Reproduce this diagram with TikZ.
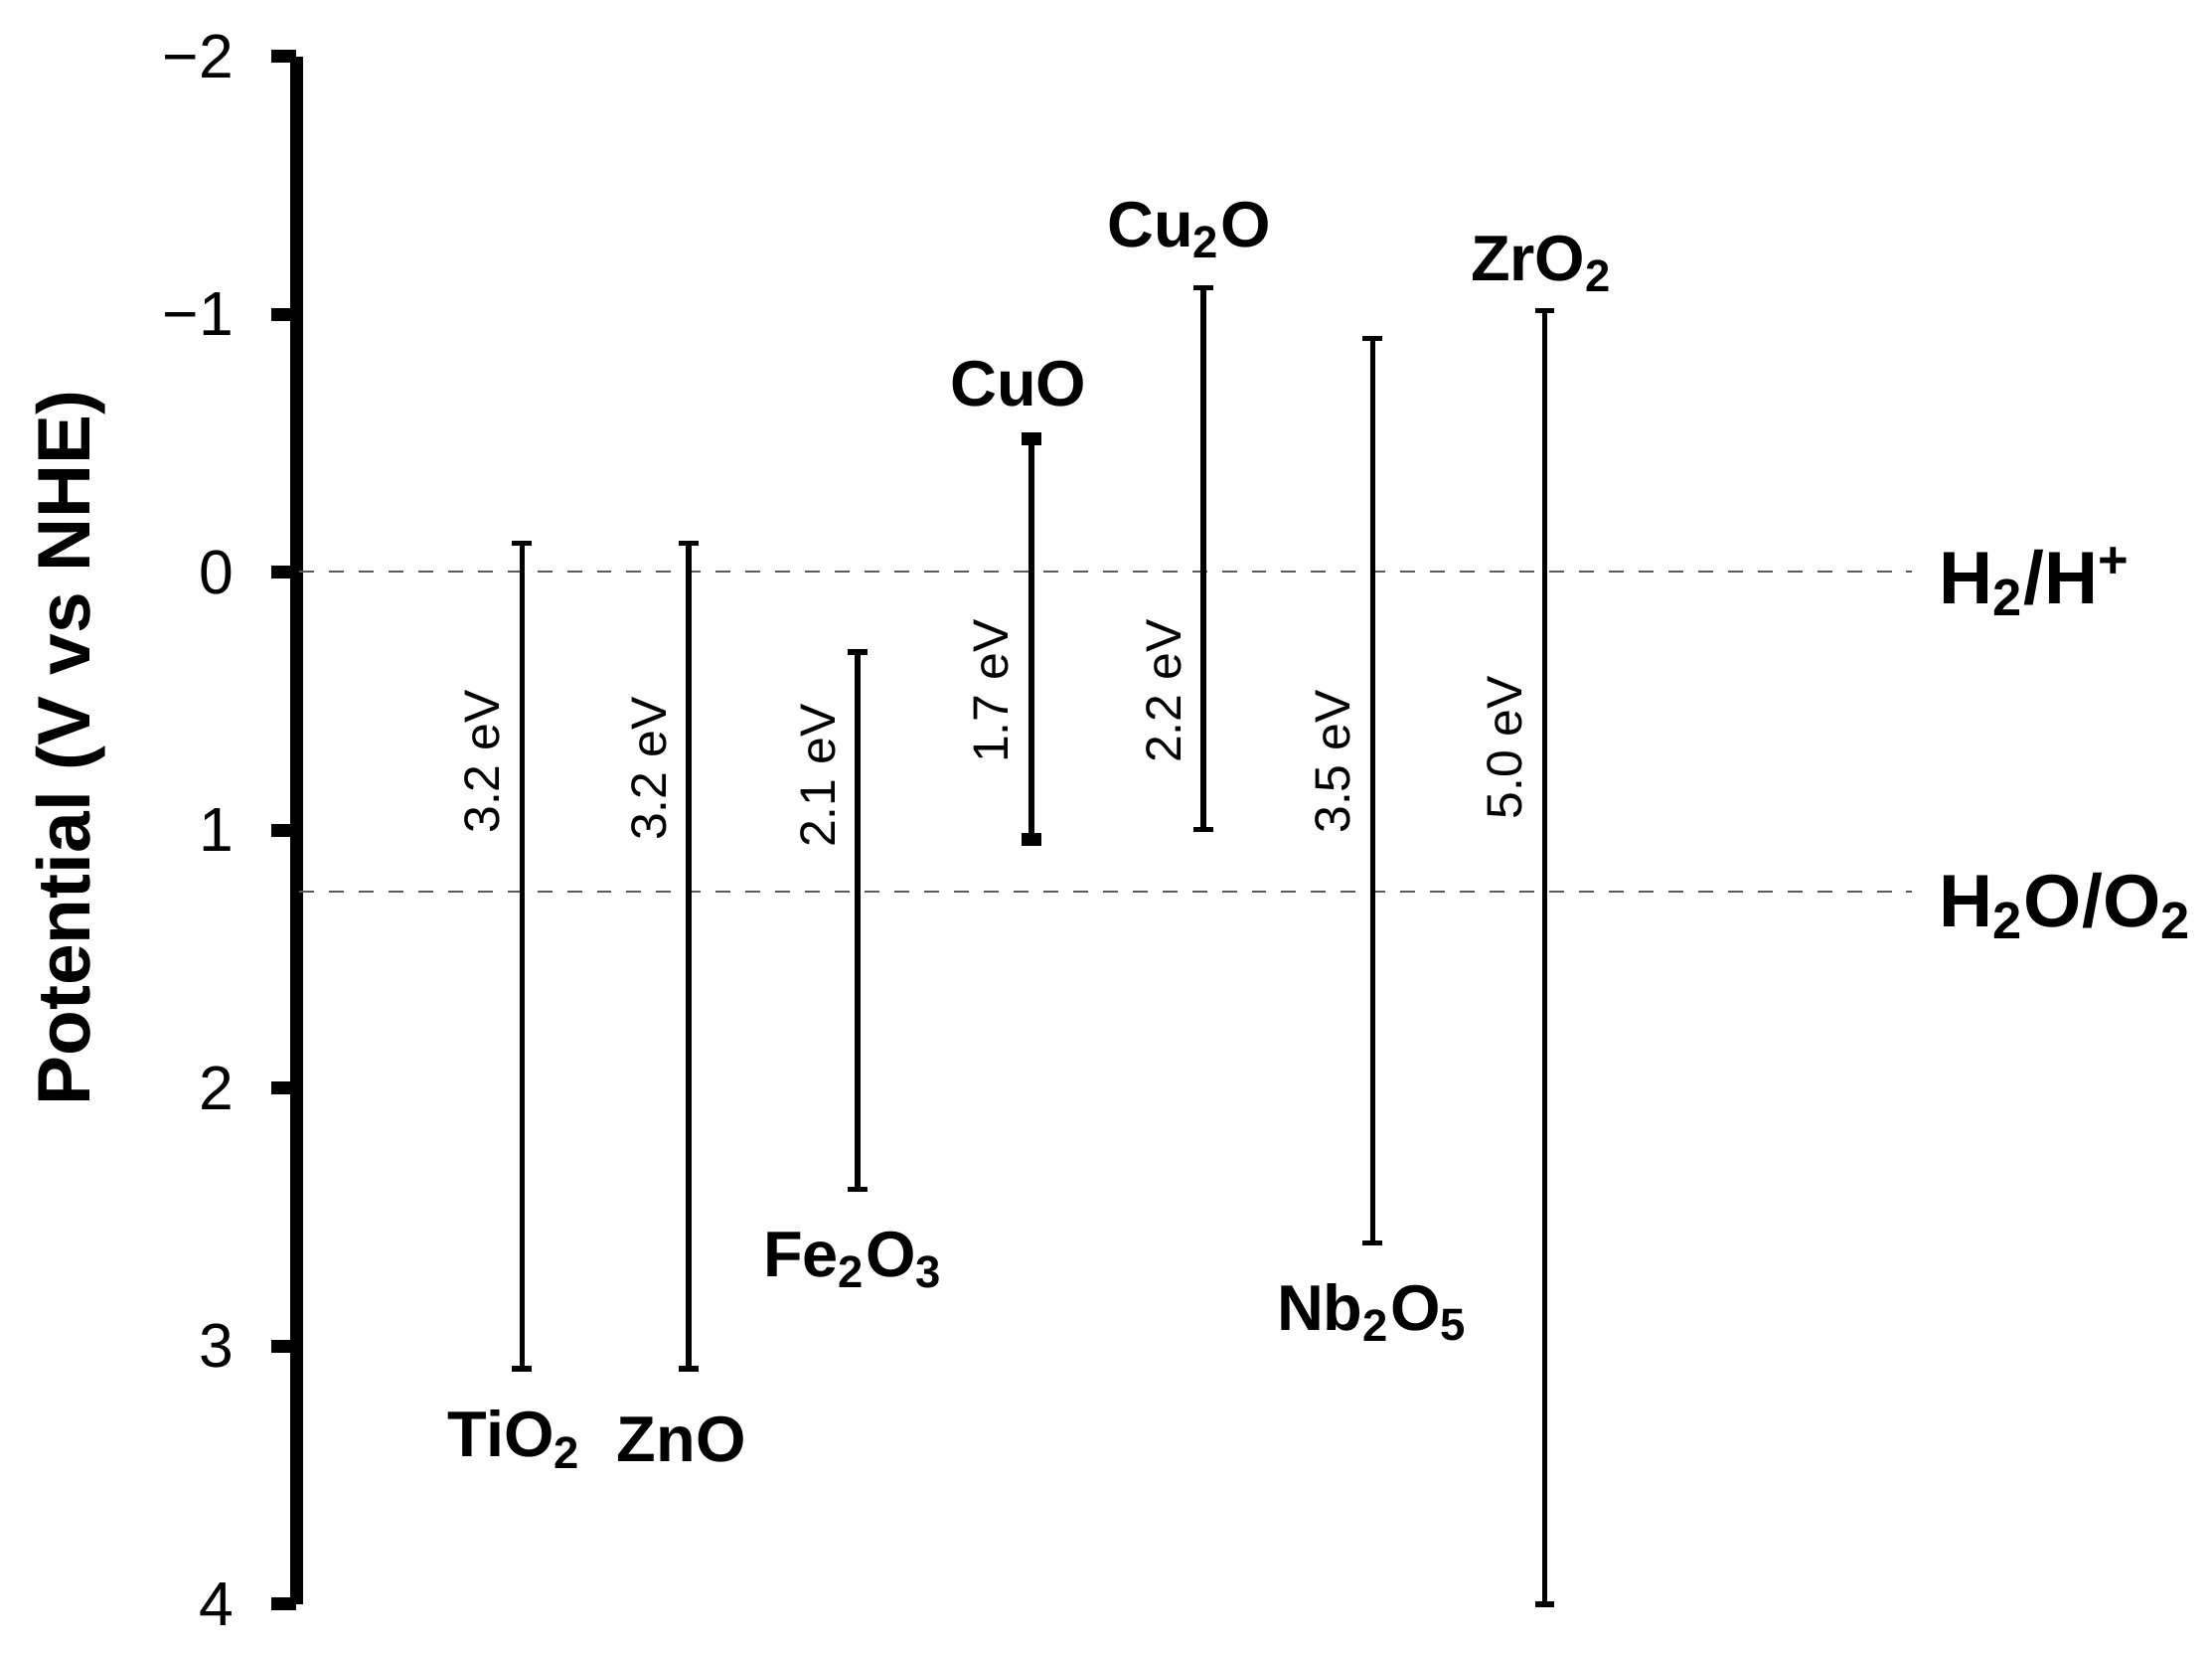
\documentclass[tikz,border=0pt]{standalone}
\usepackage{fontspec}
\setmainfont{Liberation Sans}
\newcommand{\sbs}[1]{\textsubscript{#1}}
\newcommand{\sps}[1]{\textsuperscript{#1}}
\begin{document}
\begin{tikzpicture}[x=0.01cm,y=-0.01cm,
  barline/.style={line width=1.1pt},
  gaplbl/.style={font=\fontsize{10}{12}\selectfont,rotate=90},
  matlbl/.style={font=\bfseries\fontsize{13}{15}\selectfont},
  biglbl/.style={font=\bfseries\fontsize{15}{18}\selectfont},
  ticklbl/.style={font=\fontsize{12.5}{15}\selectfont,anchor=east},
  refline/.style={dashed,line width=0.5pt,gray!70!black}]
\useasboundingbox (0,0) rectangle (1568,1171);
% axis
\draw[line width=2.6pt] (210,40) coordinate (atop) -- (210,1137) coordinate (abot);
\foreach \v/\t in {0/{−2},1/{−1},2/0,3/1,4/2,5/3,6/4}{
  \draw[line width=2.6pt] (192,{40+182.8*\v}) -- (210,{40+182.8*\v});
  \node[ticklbl] (t\v) at (178,{40+182.8*\v}) {\t};
}
\node[biglbl,rotate=90] (ylab) at (50,530) {Potential (V vs NHE)};
% reference lines
\coordinate (h1a) at (212,405); \coordinate (h1b) at (1355,405);
\coordinate (h2a) at (212,632); \coordinate (h2b) at (1355,632);
\draw[refline] (h1a) -- (h1b);
\draw[refline] (h2a) -- (h2b);
\node[biglbl,anchor=west] (hh) at (1362,412) {H\sbs{2}/H\sps{+}};
\node[biglbl,anchor=west] (ho) at (1362,642) {H\sbs{2}O/O\sbs{2}};
% bars
\foreach \n/\x/\a/\b/\g/\gy in {ti/370/385/970/3.2/540,zn/488/385/970/3.2/545,fe/608/462/843/2.1/550,cu/731/311/595/1.7/490,ct/853/204/588/2.2/490,nb/973/240/881/3.5/540,zr/1095/220/1137/5.0/530}{
  \coordinate (\n a) at (\x,\a); \coordinate (\n b) at (\x,\b);
  \draw[barline] (\n a) -- (\n b);
  \draw[barline] ([xshift=-0.07cm]\n a) -- ([xshift=0.07cm]\n a);
  \draw[barline] ([xshift=-0.07cm]\n b) -- ([xshift=0.07cm]\n b);
  \node[gaplbl] (\n g) at (\x-28,\gy) {\g{} eV};
}
\draw[line width=2.6pt] (724,311) -- (738,311) (724,595) -- (738,595);
\node[matlbl] (tin) at (365,1020) {TiO\sbs{2}};
\node[matlbl] (znn) at (483,1020) {ZnO};
\node[matlbl] (fen) at (605,893) {Fe\sbs{2}O\sbs{3}};
\node[matlbl] (cun) at (722,272) {CuO};
\node[matlbl] (ctn) at (843,163) {Cu\sbs{2}O};
\node[matlbl] (zrn) at (1093,187) {ZrO\sbs{2}};
\node[matlbl] (nbn) at (973,930) {Nb\sbs{2}O\sbs{5}};
\end{tikzpicture}
\end{document}
